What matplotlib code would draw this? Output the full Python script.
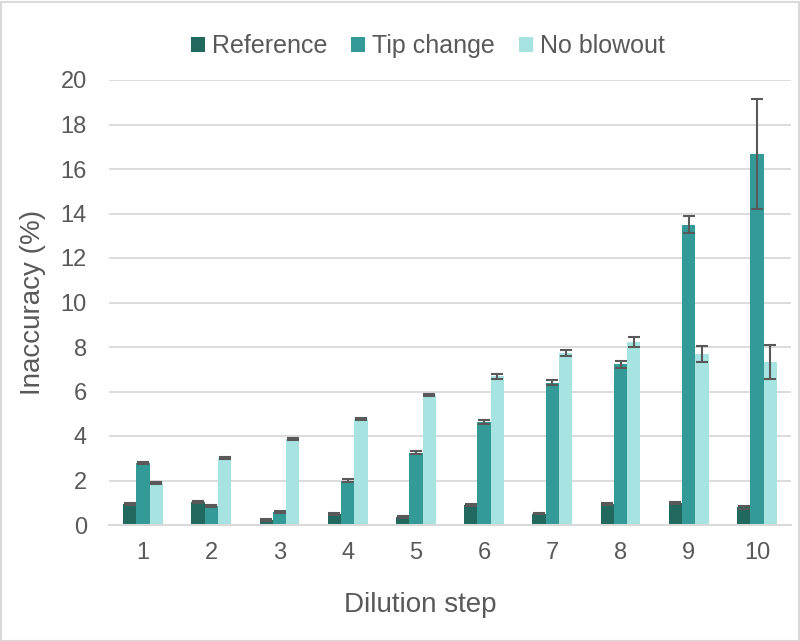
import matplotlib
matplotlib.use("Agg")
import matplotlib.pyplot as plt
import numpy as np
from matplotlib.patches import Rectangle

plt.rcParams['font.family'] = ['Liberation Sans', 'DejaVu Sans']

steps = ['1', '2', '3', '4', '5', '6', '7', '8', '9', '10']
series_names = ['Reference', 'Tip change', 'No blowout']
reference = [0.96, 1.02, 0.24, 0.48, 0.35, 0.90, 0.51, 0.96, 1.00, 0.80]
reference_err = [0.04, 0.05, 0.04, 0.04, 0.04, 0.05, 0.03, 0.04, 0.05, 0.07]
tip_change = [2.78, 0.87, 0.60, 1.99, 3.25, 4.63, 6.40, 7.22, 13.50, 16.66]
tip_change_err = [0.05, 0.04, 0.04, 0.06, 0.07, 0.08, 0.13, 0.15, 0.37, 2.48]
no_blowout = [1.90, 3.01, 3.85, 4.76, 5.83, 6.68, 7.72, 8.22, 7.70, 7.31]
no_blowout_err = [0.04, 0.04, 0.04, 0.04, 0.05, 0.10, 0.14, 0.22, 0.36, 0.77]
y_ticks = [0, 2, 4, 6, 8, 10, 12, 14, 16, 18, 20]

colors = ['#21695F', '#339A97', '#A6E3E1']
text_col = '#595959'

W, H = 800, 641
fig = plt.figure(figsize=(W / 100, H / 100), dpi=100)
fig.patches.append(Rectangle((0.5 / W, 0.5 / H), 1 - 2 / W, 1 - 2 / H,
                             transform=fig.transFigure, fill=False,
                             edgecolor='#D9D9D9', linewidth=1.5))
ax = fig.add_axes([109 / W, 1 - 525 / H, (791 - 109) / W, (525 - 80) / H])

x = np.arange(len(steps))
bw = 0.195
data = [reference, tip_change, no_blowout]
errs = [reference_err, tip_change_err, no_blowout_err]
for i, (vals, e) in enumerate(zip(data, errs)):
    ax.bar(x + (i - 1) * bw, vals, width=bw, color=colors[i],
           label=series_names[i], zorder=2)
    ax.errorbar(x + (i - 1) * bw, vals, yerr=e, fmt='none',
                ecolor=text_col, elinewidth=1.5, capsize=4.6,
                capthick=1.5, zorder=3)

ax.set_xlim(-0.5, len(steps) - 0.5)
ax.set_ylim(0, 20)
ax.set_yticks(y_ticks)
ax.set_xticks(x)
ax.set_xticklabels(steps)
ax.yaxis.grid(True, color='#D9D9D9', linewidth=1.3, zorder=0)
ax.set_axisbelow(True)
for s in ['top', 'right', 'left']:
    ax.spines[s].set_visible(False)
ax.spines['bottom'].set_color('#D9D9D9')
ax.spines['bottom'].set_linewidth(1.5)
ax.tick_params(axis='both', length=0, labelsize=17, labelcolor=text_col)
ax.tick_params(axis='y', pad=16)
ax.tick_params(axis='x', pad=12)

fig.text(420 / W, 1 - 605 / H, 'Dilution step', ha='center', va='center',
         fontsize=20, color=text_col)
fig.text(33 / W, 1 - 302 / H, 'Inaccuracy (%)', ha='center', va='center',
         rotation=90, fontsize=20, color=text_col)

handles, labels = ax.get_legend_handles_labels()
leg = fig.legend(handles, labels, loc='center', bbox_to_anchor=(428 / W, 1 - 46 / H),
                 ncol=3, frameon=False, fontsize=18, handlelength=0.55,
                 handleheight=0.55, handletextpad=0.3, columnspacing=0.95)
for t in leg.get_texts():
    t.set_color(text_col)

fig.savefig('out.png', dpi=100)
